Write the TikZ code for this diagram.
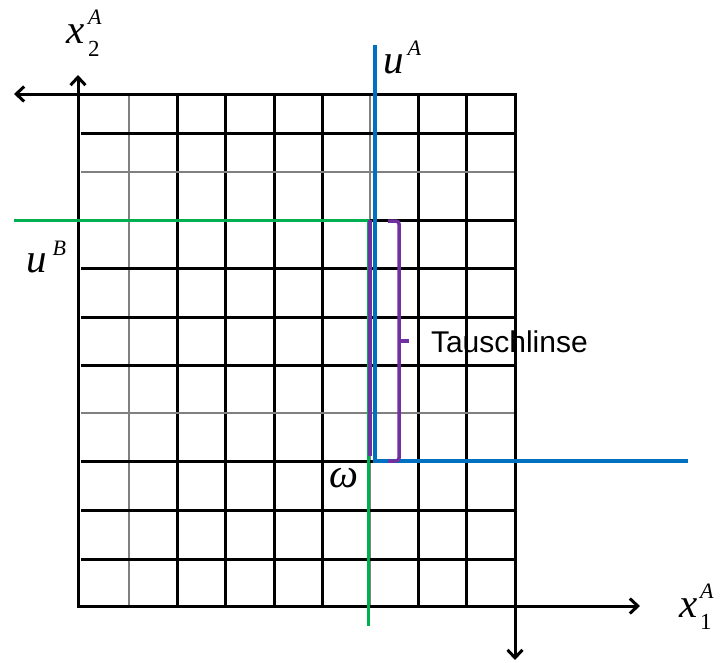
\documentclass[tikz,border=0pt]{standalone}
\usepackage{fontspec}
\setmainfont{Liberation Serif}
\newfontfamily\labsans{Liberation Sans}
\usetikzlibrary{arrows.meta}
\definecolor{ugreen}{RGB}{0,176,80}
\definecolor{ublue}{RGB}{0,112,192}
\definecolor{upurple}{RGB}{112,48,160}
\newcommand{\mainsym}[1]{{\fontsize{41}{41}\selectfont\itshape #1}}
\newcommand{\supsym}[2]{\raisebox{#1}{\fontsize{22}{22}\selectfont\itshape #2}}
\newcommand{\subsym}[2]{\makebox[0pt][l]{\raisebox{#1}{\fontsize{23}{23}\selectfont #2}}}
\begin{document}
\begin{tikzpicture}[x=1pt,y=-1pt,
  gridblack/.style={line width=3pt, black},
  gridgray/.style={line width=2pt, black!50},
  axisline/.style={line width=3pt, black, line cap=butt},
  barb/.tip={Straight Barb[length=8pt,width=15pt]},
  lbl/.style={anchor=base west, inner sep=0pt, outer sep=0pt},
  greenline/.style={line width=3pt, ugreen},
  blueline/.style={line width=4pt, ublue},
  purpleline/.style={line width=4pt, upurple}]
\useasboundingbox (0,0) rectangle (720,662);
\fill[white] (0,0) rectangle (720,662);
% grid
\foreach \gx in {177,225,274,322,418,466} \draw[gridblack] (\gx,94) -- (\gx,606);
\foreach \gx in {129,370} \draw[gridgray] (\gx,94) -- (\gx,606);
\foreach \gy in {133,220,268,317,365,461,510,559} \draw[gridblack] (81,\gy) -- (515,\gy);
\foreach \gy in {172,413} \draw[gridgray] (81,\gy) -- (515,\gy);
% axes
\coordinate (Ao) at (78,606);
\coordinate (Aup) at (78,75);
\coordinate (Aright) at (640,606);
\coordinate (Bo) at (515,94);
\coordinate (Bleft) at (14,94);
\coordinate (Bdown) at (515,660);
\draw[axisline, barb-barb] (Aup) -- (Ao) -- (Aright);
\draw[axisline, barb-barb] (Bleft) -- (Bo) -- (Bdown);
% indifference curves
\coordinate (g1) at (14,220);
\coordinate (g2) at (368,220);
\coordinate (g3) at (368,626);
\draw[greenline] (g1) -- (g2) -- (g3);
\coordinate (b1) at (375,45);
\coordinate (b2) at (375,461);
\coordinate (b3) at (688,461);
\draw[blueline] (b1) -- (b2) -- (b3);
\coordinate (p1) at (370,220);
\coordinate (p2) at (370,456);
\draw[purpleline] (p1) -- (p2);
% brace
\coordinate (br1) at (388,221);
\coordinate (br2) at (399,221);
\coordinate (br3) at (399,461);
\coordinate (br4) at (388,461);
\coordinate (brm) at (399,341);
\coordinate (brt) at (409,341);
\draw[purpleline, line width=3.5pt, rounded corners=3pt] (br1) -- (br2) -- (br3) -- (br4);
\draw[purpleline, line width=3.5pt] (brm) -- (brt);
% labels
\node[lbl] (lx2) at (66,43) {\mainsym{x}\hspace{4pt}\subsym{-13pt}{2}\supsym{19pt}{A}};
\node[lbl] (lx1) at (679,617) {\mainsym{x}\hspace{3pt}\subsym{-12pt}{1}\supsym{19pt}{A}};
\node[lbl] (luA) at (383,73) {\mainsym{u}\hspace{4pt}\supsym{18pt}{A}};
\node[lbl] (luB) at (27,272) {\mainsym{u}\hspace{5pt}\supsym{17pt}{B}};
\node[lbl] (lw) at (329,487) {\mainsym{ω}};
\node[lbl] (ltl) at (431,352) {\labsans\fontsize{30}{30}\selectfont Tauschlinse};
\end{tikzpicture}
\end{document}
